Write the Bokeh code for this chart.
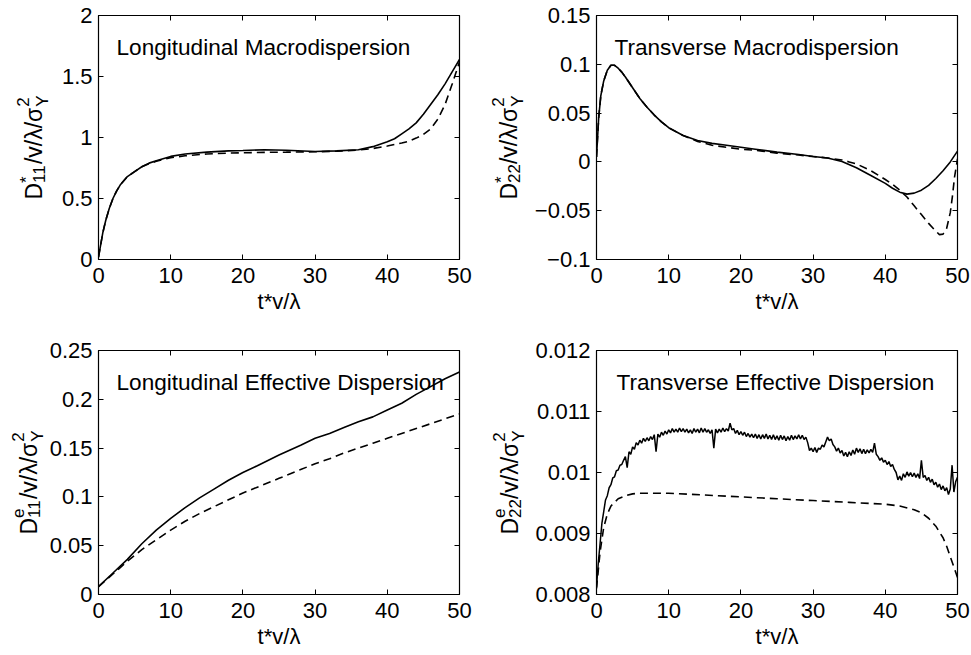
import math
from bokeh.plotting import figure
from bokeh.layouts import row, column
from bokeh.models import Label, LinearAxis, FixedTicker, Range1d
from bokeh.core.properties import value
from bokeh.embed import file_html
from bokeh.resources import INLINE

FONT = "Liberation Sans"

# ---------------- data ----------------
x_ticks = [0, 10, 20, 30, 40, 50]
x_tick_labels = ["0", "10", "20", "30", "40", "50"]
x_label = "t*v/λ"

titles = ["Longitudinal Macrodispersion", "Transverse Macrodispersion",
          "Longitudinal Effective Dispersion", "Transverse Effective Dispersion"]

# panel 1: longitudinal macrodispersion
p1_y_ticks = [0, 0.5, 1, 1.5, 2]
p1_y_tick_labels = ["0", "0.5", "1", "1.5", "2"]
p1_t = [0, 0.3, 0.6, 1, 1.5, 2, 2.5, 3, 4, 5, 6, 7, 8, 10, 12, 15, 18, 20, 23, 26, 30, 33, 36, 38,
        40, 41, 42, 43, 44, 45, 46, 47, 48, 49, 50]
p1_solid = [0.02, 0.12, 0.22, 0.32, 0.42, 0.50, 0.56, 0.61, 0.68, 0.72, 0.76, 0.79, 0.81, 0.845, 0.865,
            0.88, 0.89, 0.893, 0.90, 0.895, 0.885, 0.89, 0.90, 0.925,
            0.965, 0.99, 1.03, 1.07, 1.12, 1.19, 1.27, 1.35, 1.44, 1.54, 1.64]
p1_td = [0, 0.3, 0.6, 1, 1.5, 2, 2.5, 3, 4, 5, 6, 7, 8, 10, 12, 15, 18, 20, 23, 26, 30, 33, 36, 38,
         40, 42, 43, 44, 45, 46, 47, 48, 49, 49.5, 50]
p1_dash = [0.02, 0.12, 0.22, 0.32, 0.42, 0.50, 0.56, 0.61, 0.68, 0.72, 0.76, 0.785, 0.805, 0.835, 0.85,
           0.865, 0.872, 0.875, 0.878, 0.88, 0.883, 0.888, 0.897, 0.91,
           0.93, 0.955, 0.97, 0.995, 1.025, 1.07, 1.15, 1.27, 1.44, 1.53, 1.62]

# panel 2: transverse macrodispersion
p2_y_ticks = [-0.1, -0.05, 0, 0.05, 0.1, 0.15]
p2_y_tick_labels = ["\u22120.1", "\u22120.05", "0", "0.05", "0.1", "0.15"]
p2_t = [0, 0.3, 0.6, 1, 1.5, 2, 2.5, 3, 3.5, 4, 5, 6, 7, 8, 9, 10, 12, 14, 16, 18, 20, 22, 25, 28,
        30, 32, 34, 36, 38, 40, 41, 42, 43, 44, 45, 46, 47, 48, 49, 50]
p2_solid = [0.005, 0.045, 0.068, 0.083, 0.094, 0.099, 0.099, 0.096, 0.092, 0.087, 0.076, 0.065, 0.056,
            0.048, 0.041, 0.035, 0.027, 0.022, 0.019, 0.017, 0.015, 0.013, 0.010, 0.0075,
            0.0055, 0.004, 0.0005, -0.006, -0.014, -0.022, -0.027, -0.031, -0.033, -0.032, -0.029,
            -0.024, -0.017, -0.009, 0.0, 0.011]
p2_td = [0, 0.3, 0.6, 1, 1.5, 2, 2.5, 3, 3.5, 4, 5, 6, 7, 8, 9, 10, 12, 14, 16, 18, 20, 22, 25, 28,
         30, 32, 34, 35, 36, 38, 40, 41, 42, 43, 44, 45, 46, 47, 47.5, 48, 48.5, 49, 49.3, 49.6, 50]
p2_dash = [0.005, 0.045, 0.068, 0.083, 0.094, 0.099, 0.099, 0.096, 0.092, 0.087, 0.076, 0.065, 0.056,
           0.048, 0.041, 0.035, 0.027, 0.021, 0.017, 0.015, 0.013, 0.012, 0.009, 0.007,
           0.0055, 0.004, 0.002, 0.0, -0.002, -0.009, -0.018, -0.023, -0.029, -0.036, -0.045,
           -0.054, -0.063, -0.071, -0.0745, -0.074, -0.068, -0.052, -0.035, -0.015, 0.003]

# panel 3: longitudinal effective dispersion
p3_y_ticks = [0, 0.05, 0.1, 0.15, 0.2, 0.25]
p3_y_tick_labels = ["0", "0.05", "0.1", "0.15", "0.2", "0.25"]
p3_t = [0, 2, 4, 6, 8, 10, 12, 14, 16, 18, 20, 22, 25, 28, 30, 32, 34, 36, 38, 40, 42, 44, 46, 48, 50]
p3_solid = [0.008, 0.022, 0.036, 0.052, 0.066, 0.078, 0.089, 0.099, 0.108, 0.117, 0.125, 0.132, 0.143,
            0.153, 0.160, 0.165, 0.171, 0.177, 0.182, 0.189, 0.196, 0.205, 0.213, 0.221, 0.228]
p3_dash = [0.008, 0.021, 0.034, 0.046, 0.056, 0.066, 0.075, 0.083, 0.090, 0.097, 0.104, 0.110, 0.119,
           0.128, 0.134, 0.139, 0.145, 0.150, 0.155, 0.160, 0.165, 0.170, 0.175, 0.180, 0.185]

# panel 4: transverse effective dispersion (solid is a noisy simulation curve)
p4_y_ticks = [0.008, 0.009, 0.01, 0.011, 0.012]
p4_y_tick_labels = ["0.008", "0.009", "0.01", "0.011", "0.012"]
p4_t = [0, 0.25, 0.5, 0.75, 1, 1.25, 1.5, 1.75, 2, 2.25, 2.5, 2.75, 3, 3.25, 3.5, 3.75,
        4, 4.25, 4.5, 4.75, 5, 5.25, 5.5, 5.75, 6, 6.25, 6.5, 6.75, 7, 7.25, 7.5, 7.75,
        8, 8.25, 8.5, 8.75, 9, 9.25, 9.5, 9.75, 10, 10.25, 10.5, 10.75, 11, 11.25, 11.5, 11.75,
        12, 12.25, 12.5, 12.75, 13, 13.25, 13.5, 13.75, 14, 14.25, 14.5, 14.75, 15, 15.25, 15.5, 15.75,
        16, 16.25, 16.5, 16.75, 17, 17.25, 17.5, 17.75, 18, 18.25, 18.5, 18.75, 19, 19.25, 19.5, 19.75,
        20, 20.25, 20.5, 20.75, 21, 21.25, 21.5, 21.75, 22, 22.25, 22.5, 22.75, 23, 23.25, 23.5, 23.75,
        24, 24.25, 24.5, 24.75, 25, 25.25, 25.5, 25.75, 26, 26.25, 26.5, 26.75, 27, 27.25, 27.5, 27.75,
        28, 28.25, 28.5, 28.75, 29, 29.25, 29.5, 29.75, 30, 30.25, 30.5, 30.75, 31, 31.25, 31.5, 31.75,
        32, 32.25, 32.5, 32.75, 33, 33.25, 33.5, 33.75, 34, 34.25, 34.5, 34.75, 35, 35.25, 35.5, 35.75,
        36, 36.25, 36.5, 36.75, 37, 37.25, 37.5, 37.75, 38, 38.25, 38.5, 38.75, 39, 39.25, 39.5, 39.75,
        40, 40.25, 40.5, 40.75, 41, 41.25, 41.5, 41.75, 42, 42.25, 42.5, 42.75, 43, 43.25, 43.5, 43.75,
        44, 44.25, 44.5, 44.75, 45, 45.25, 45.5, 45.75, 46, 46.25, 46.5, 46.75, 47, 47.25, 47.5, 47.75,
        48, 48.25, 48.5, 48.75, 49, 49.25, 49.5, 49.75, 50]
p4_solid = [0.00812, 0.00852, 0.00884, 0.00917, 0.00936, 0.00955, 0.00962, 0.00975,
            0.00980, 0.00991, 0.00993, 0.01003, 0.01004, 0.01012, 0.01013, 0.01020,
            0.01026, 0.01008, 0.01034, 0.01030, 0.01042, 0.01038, 0.01049, 0.01045,
            0.01053, 0.01048, 0.01056, 0.01051, 0.01057, 0.01052, 0.01059, 0.01054,
            0.01062, 0.01034, 0.01063, 0.01058, 0.01066, 0.01061, 0.01068, 0.01063,
            0.01070, 0.01065, 0.01072, 0.01066, 0.01071, 0.01066, 0.01073, 0.01067,
            0.01072, 0.01066, 0.01071, 0.01065, 0.01070, 0.01064, 0.01072, 0.01066,
            0.01071, 0.01065, 0.01073, 0.01066, 0.01072, 0.01066, 0.01070, 0.01064,
            0.01070, 0.01040, 0.01071, 0.01065, 0.01071, 0.01066, 0.01073, 0.01067,
            0.01072, 0.01068, 0.01081, 0.01070, 0.01072, 0.01064, 0.01069, 0.01062,
            0.01067, 0.01061, 0.01066, 0.01059, 0.01064, 0.01058, 0.01063, 0.01057,
            0.01063, 0.01056, 0.01062, 0.01055, 0.01062, 0.01056, 0.01063, 0.01055,
            0.01061, 0.01054, 0.01062, 0.01054, 0.01060, 0.01053, 0.01061, 0.01054,
            0.01060, 0.01052, 0.01059, 0.01053, 0.01061, 0.01054, 0.01060, 0.01055,
            0.01062, 0.01055, 0.01061, 0.01054, 0.01058, 0.01049, 0.01036, 0.01040,
            0.01034, 0.01041, 0.01033, 0.01040, 0.01038, 0.01045, 0.01042, 0.01050,
            0.01058, 0.01052, 0.01055, 0.01046, 0.01042, 0.01035, 0.01040, 0.01032,
            0.01036, 0.01027, 0.01033, 0.01026, 0.01034, 0.01028, 0.01037, 0.01030,
            0.01040, 0.01033, 0.01039, 0.01031, 0.01038, 0.01031, 0.01037, 0.01032,
            0.01038, 0.01033, 0.01048, 0.01030, 0.01026, 0.01020, 0.01024, 0.01017,
            0.01020, 0.01013, 0.01018, 0.01010, 0.01013, 0.01005, 0.01000, 0.00988,
            0.00994, 0.00987, 0.00998, 0.00992, 0.01001, 0.00994, 0.01000, 0.00993,
            0.00999, 0.00992, 0.00998, 0.00990, 0.01020, 0.00992, 0.00995, 0.00987,
            0.00992, 0.00984, 0.00989, 0.00980, 0.00984, 0.00976, 0.00981, 0.00972,
            0.00978, 0.00970, 0.00975, 0.00964, 0.00973, 0.01012, 0.00968, 0.00985,
            0.00992]
p4_td = [0, 0.5, 1, 1.5, 2, 3, 4, 5, 6, 8, 10, 15, 20, 25, 30, 35, 40, 42, 44, 45, 46, 47, 48, 48.5,
         49, 49.5, 50]
p4_dash = [0.0081, 0.0087, 0.0091, 0.00932, 0.00945, 0.00957, 0.00962, 0.00965, 0.00966, 0.00966,
           0.00966, 0.00963, 0.00960, 0.00957, 0.00954, 0.00951, 0.00948, 0.00945, 0.00939, 0.00934,
           0.00925, 0.00912, 0.00893, 0.00879, 0.00862, 0.00845, 0.00828]

# y-axis label parts: (superscript, subscript) after "D"
ylabel_scripts = [("*", "11"), ("*", "22"), ("e", "11"), ("e", "22")]

# ---------------- styling ----------------
FS = 22           # tick / axis label font size (px)
FS_TITLE = 22.6
FS_Y = 23         # y label main font
FS_SCRIPT = 17    # sub/superscript font size
ASC = 0.905       # ascent of Liberation Sans (em)
CHAR_W = {"D": 0.722, "*": 0.389, "e": 0.556, "1": 0.556, "2": 0.556, "/": 0.278, "v": 0.5,
          "λ": 0.556, "σ": 0.6, "Y": 0.667}


def text_w(s, fs):
    return sum(CHAR_W.get(c, 0.556) for c in s) * fs


def ylabel_fig(w, h, bt, bb, base_x, sup, sub):
    """Narrow figure holding the rotated composite y-axis label.
    Its frame has the same vertical extent as the neighbouring panel; data units are
    pixels measured from the bottom-left corner of this canvas."""
    f = figure(width=w, height=h, x_range=Range1d(0, w), y_range=Range1d(bb, h - bt),
               output_backend="svg", toolbar_location=None, x_axis_location=None,
               y_axis_location=None, min_border_left=0, min_border_right=0,
               min_border_top=bt, min_border_bottom=bb)
    f.grid.visible = False
    f.outline_line_color = None
    f.background_fill_color = "white"
    f.border_fill_color = "white"
    frame_h = h - bt - bb
    w_d = text_w("D", FS_Y)
    w_s1 = max(text_w(sup, FS_SCRIPT), text_w(sub, FS_SCRIPT))
    w_rest = text_w("/v/λ/σ", FS_Y)
    w_s2 = max(text_w("2", FS_SCRIPT), text_w("Y", FS_SCRIPT))
    total = w_d + w_s1 + w_rest + w_s2
    start = bb + frame_h / 2.0 - 10 - total / 2.0
    # anchors are the top of each text box (text_baseline="top"); baseline lies ASC*fs to the right
    m_off = ASC * FS_Y
    s_off = ASC * FS_SCRIPT
    main_x, main_y, main_t = [], [], []
    scr_x, scr_y, scr_t = [], [], []
    pos = start
    main_x.append(base_x - m_off); main_y.append(pos); main_t.append("D"); pos += w_d
    scr_x += [base_x - 9 - s_off, base_x + 7 - s_off]; scr_y += [pos, pos]; scr_t += [sup, sub]
    pos += w_s1
    main_x.append(base_x - m_off); main_y.append(pos); main_t.append("/v/λ/σ"); pos += w_rest
    scr_x += [base_x - 9 - s_off, base_x + 7 - s_off]; scr_y += [pos, pos]; scr_t += ["2", "Y"]
    f.text(x=main_x, y=main_y, text=main_t, angle=math.pi / 2, text_align="left",
           text_baseline="top", text_font=value(FONT), text_font_size=value(f"{FS_Y}px"),
           text_color="black")
    f.text(x=scr_x, y=scr_y, text=scr_t, angle=math.pi / 2, text_align="left",
           text_baseline="top", text_font=value(FONT), text_font_size=value(f"{FS_SCRIPT}px"),
           text_color="black")
    return f


def panel(w, h, bl, br, bt, bb, y_lo, y_hi, yt, ytl, title, title_dx, series):
    p = figure(width=w, height=h, x_range=Range1d(0, 50), y_range=Range1d(y_lo, y_hi),
               output_backend="svg", toolbar_location=None,
               min_border_left=bl, min_border_right=br, min_border_top=bt, min_border_bottom=bb)
    p.grid.visible = False
    p.outline_line_color = "black"
    p.outline_line_width = 1.2
    p.outline_line_alpha = 1.0
    p.background_fill_color = "white"
    p.border_fill_color = "white"

    for ax, ticks, labels in ((p.xaxis[0], x_ticks, x_tick_labels), (p.yaxis[0], yt, ytl)):
        ax.ticker = FixedTicker(ticks=ticks)
        ax.major_label_overrides = dict(zip(ticks, labels))
        ax.major_tick_in = 5
        ax.major_tick_out = 0
        ax.minor_tick_line_color = None
        ax.axis_line_color = None
        ax.major_tick_line_color = "black"
        ax.major_label_text_font = FONT
        ax.major_label_text_font_size = f"{FS}px"
        ax.major_label_text_color = "black"
    p.xaxis.major_label_standoff = 8
    p.yaxis.major_label_standoff = 6
    p.xaxis.axis_label = x_label
    p.xaxis.axis_label_text_font = FONT
    p.xaxis.axis_label_text_font_size = f"{FS}px"
    p.xaxis.axis_label_text_font_style = "normal"
    p.xaxis.axis_label_text_color = "black"
    p.xaxis.axis_label_standoff = 3

    # mirrored tick marks on top and right (box style), no labels
    for loc, ticks in (("above", x_ticks), ("right", yt)):
        ax = LinearAxis(ticker=FixedTicker(ticks=ticks), major_label_text_font_size="1px",
                        major_label_text_color=None, major_label_standoff=0, axis_line_color=None,
                        major_tick_in=5, major_tick_out=0, minor_tick_line_color=None,
                        major_tick_line_color="black")
        p.add_layout(ax, loc)

    for t, y, dash, lw in series:
        if dash:
            p.line(t, y, line_color="black", line_width=lw, line_dash="8 5")
        else:
            p.line(t, y, line_color="black", line_width=lw)

    p.add_layout(Label(x=0, y=y_hi, x_offset=title_dx, y_offset=-32, text=title,
                       text_font=FONT, text_font_size=f"{FS_TITLE}px", text_color="black",
                       text_align="left", text_baseline="alphabetic"))
    return p


# top row: label widths + panel widths add up to 971
l1 = ylabel_fig(58, 320, 15, 61, 41, *ylabel_scripts[0])
p1 = panel(427, 320, 37, 26, 15, 61, 0, 2, p1_y_ticks, p1_y_tick_labels, titles[0], 18,
           [(p1_td, p1_dash, True, 1.6), (p1_t, p1_solid, False, 1.6)])
l2 = ylabel_fig(46, 320, 15, 61, 31, *ylabel_scripts[1])
p2 = panel(440, 320, 62, 14, 15, 61, -0.1, 0.15, p2_y_ticks, p2_y_tick_labels, titles[1], 18,
           [(p2_td, p2_dash, True, 1.6), (p2_t, p2_solid, False, 1.6)])
# bottom row
l3 = ylabel_fig(46, 335, 30, 61, 36, *ylabel_scripts[2])
p3 = panel(439, 335, 49, 26, 30, 61, 0, 0.25, p3_y_ticks, p3_y_tick_labels, titles[2], 18,
           [(p3_t, p3_dash, True, 1.6), (p3_t, p3_solid, False, 1.6)])
l4 = ylabel_fig(47, 335, 30, 61, 32, *ylabel_scripts[3])
p4 = panel(439, 335, 61, 14, 30, 61, 0.008, 0.012, p4_y_ticks, p4_y_tick_labels, titles[3], 20,
           [(p4_td, p4_dash, True, 1.6), (p4_t, p4_solid, False, 1.5)])

layout = column(row(l1, p1, l2, p2), row(l3, p3, l4, p4))

open("out.html", "w").write(file_html(layout, INLINE, title="Dispersion"))
